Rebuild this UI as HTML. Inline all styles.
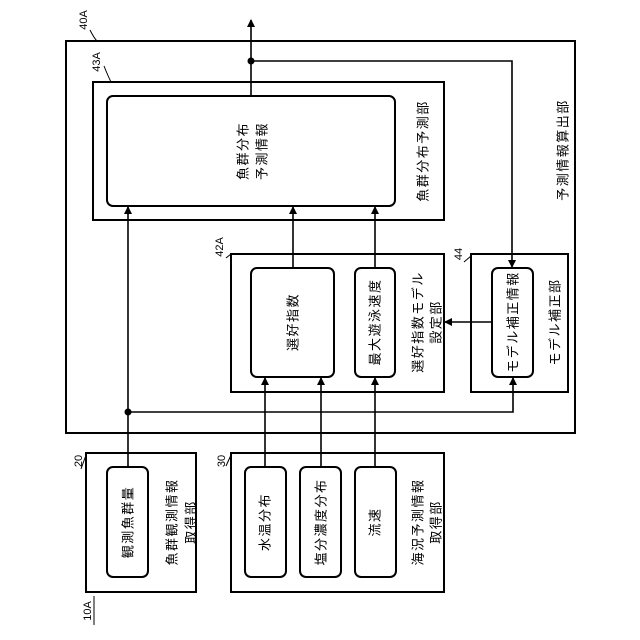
<!DOCTYPE html>
<html><head><meta charset="utf-8"><style>body{margin:0;background:#fff}svg{display:block}text{font-family:"Liberation Sans","Noto Sans CJK JP",sans-serif;fill:#000}</style></head><body>
<svg width="640" height="640" viewBox="0 0 640 640" xmlns="http://www.w3.org/2000/svg">
<defs><marker id="a" markerWidth="8" markerHeight="8" refX="7" refY="4" orient="auto" markerUnits="userSpaceOnUse"><path d="M0,0 L8,4 L0,8 z" fill="#000"/></marker></defs>
<g fill="none" stroke="#000" stroke-width="2">
<rect x="66" y="41" width="509" height="392"/>
<rect x="93" y="82" width="351" height="138"/>
<rect x="107" y="96" width="288" height="110" rx="6"/>
<rect x="231" y="254" width="213" height="138"/>
<rect x="251" y="268" width="83" height="109" rx="6"/>
<rect x="355" y="268" width="40" height="109" rx="6"/>
<rect x="471" y="254" width="97" height="138"/>
<rect x="492" y="268" width="41" height="109" rx="6"/>
<rect x="86" y="453" width="110" height="139"/>
<rect x="107" y="467" width="41" height="110" rx="6"/>
<rect x="231" y="453" width="213" height="139"/>
<rect x="245" y="467" width="41" height="110" rx="6"/>
<rect x="300" y="467" width="41" height="110" rx="6"/>
<rect x="355" y="467" width="41" height="110" rx="6"/>
</g>
<g fill="none" stroke="#000" stroke-width="1.6">
<path d="M251,96 V20" marker-end="url(#a)"/>
<path d="M251,61 H512 V267" marker-end="url(#a)"/>
<path d="M128,467 V207" marker-end="url(#a)"/>
<path d="M293,268 V207" marker-end="url(#a)"/>
<path d="M375,268 V207" marker-end="url(#a)"/>
<path d="M128,412 H513 V378" marker-end="url(#a)"/>
<path d="M492,322 H445" marker-end="url(#a)"/>
<path d="M265,467 V378" marker-end="url(#a)"/>
<path d="M321,467 V378" marker-end="url(#a)"/>
<path d="M375,467 V378" marker-end="url(#a)"/>
<path d="M90,30 Q94,38 97,41" stroke-width="1"/>
<path d="M104,66 Q108,76 111,82" stroke-width="1"/>
<path d="M226,258 L231,254" stroke-width="1"/>
<path d="M464,262 L471,256" stroke-width="1"/>
<path d="M81,469 L86,455" stroke-width="1"/>
<path d="M226,466 L231,455" stroke-width="1"/>
<path d="M94,625 V596" stroke-width="1"/>
</g>
<circle cx="251" cy="61" r="3.5"/><circle cx="128" cy="412" r="3.5"/>
<g font-size="13" letter-spacing="1.5" text-anchor="middle" dominant-baseline="central">
<text transform="translate(243,151) rotate(-90)">魚群分布</text>
<text transform="translate(262,151) rotate(-90)">予測情報</text>
<text transform="translate(423,151) rotate(-90)">魚群分布予測部</text>
<text transform="translate(563,150) rotate(-90)">予測情報算出部</text>
<text transform="translate(293,322) rotate(-90)">選好指数</text>
<text transform="translate(375,322) rotate(-90)">最大遊泳速度</text>
<text transform="translate(418,322) rotate(-90)">選好指数モデル</text>
<text transform="translate(436,322) rotate(-90)">設定部</text>
<text transform="translate(513,322) rotate(-90)">モデル補正情報</text>
<text transform="translate(555,322) rotate(-90)">モデル補正部</text>
<text transform="translate(128,522) rotate(-90)">観測魚群量</text>
<text transform="translate(172,522) rotate(-90)">魚群観測情報</text>
<text transform="translate(191,522) rotate(-90)">取得部</text>
<text transform="translate(265,522) rotate(-90)">水温分布</text>
<text transform="translate(321,522) rotate(-90)">塩分濃度分布</text>
<text transform="translate(375,522) rotate(-90)">流速</text>
<text transform="translate(418,522) rotate(-90)">海況予測情報</text>
<text transform="translate(436,522) rotate(-90)">取得部</text>
</g>
<g font-size="11" text-anchor="middle" dominant-baseline="central">
<text transform="translate(84,20) rotate(-90)">40A</text>
<text transform="translate(97,62) rotate(-90)">43A</text>
<text transform="translate(220,247) rotate(-90)">42A</text>
<text transform="translate(459,254) rotate(-90)">44</text>
<text transform="translate(79,461) rotate(-90)">20</text>
<text transform="translate(222,461) rotate(-90)">30</text>
<text transform="translate(88,611) rotate(-90)">10A</text>
</g>
</svg>
</body></html>
